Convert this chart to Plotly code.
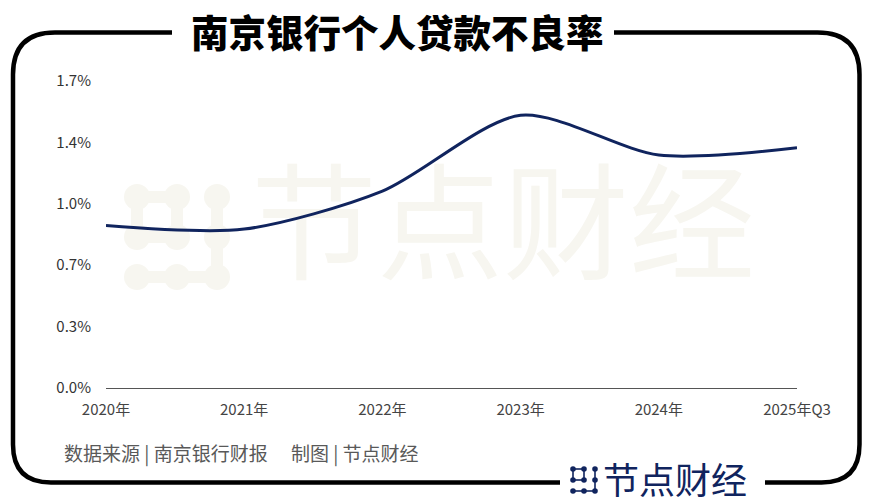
import plotly.graph_objects as go

# ---- data ----
categories = ["2020年", "2021年", "2022年", "2023年", "2024年", "2025年Q3"]
npl_rate = [0.90, 0.88, 1.09, 1.51, 1.29, 1.33]  # 个人贷款不良率 (%)
ytick_vals = [0.0, 0.34, 0.68, 1.02, 1.36, 1.70]
ytick_text = ["0.0%", "0.3%", "0.7%", "1.0%", "1.4%", "1.7%"]

W, H = 872, 504
L, R, T, B = 106, 75, 81, 116
X0, X1 = L, W - R
Y0, Y1 = H - B, T

def px(x):
    return (x - X0) / (X1 - X0)

def py(y):
    return (Y0 - y) / (Y0 - Y1)

NAVY = "#10245e"
WM = "#f7f6f0"
FONT = "Noto Sans CJK SC"

xs = list(range(len(categories)))
fig = go.Figure()

# watermark text (drawn under the data line)
fig.add_trace(go.Scatter(
    x=[(503 - X0) / (X1 - X0) * 5], y=[(Y0 - 238) / (Y0 - Y1) * 1.7],
    mode="text", text=["节点财经"],
    textfont=dict(family=FONT, size=126, color=WM),
    hoverinfo="skip", showlegend=False, cliponaxis=False,
))

fig.add_trace(go.Scatter(
    x=xs, y=npl_rate, mode="lines",
    line=dict(color=NAVY, width=3, shape="spline", smoothing=0.8),
    showlegend=False, hoverinfo="skip",
))

shapes = []
lw = 4.5
xl, xr, yt, yb = 13, 859.5, 32.5, 482.5
rt, rb = 42, 38
def P(x, y):
    return f"{px(x):.5f},{py(y):.5f}"
path1 = (f"M {P(172, yt)} L {P(xl + rt, yt)} Q {P(xl, yt)} {P(xl, yt + rt)} "
         f"L {P(xl, yb - rb)} Q {P(xl, yb)} {P(xl + rb, yb)} L {P(560, yb)}")
path2 = (f"M {P(765, yb)} L {P(xr - rb, yb)} Q {P(xr, yb)} {P(xr, yb - rb)} "
         f"L {P(xr, yt + rt)} Q {P(xr, yt)} {P(xr - rt, yt)} L {P(614, yt)}")
for p in (path1, path2):
    shapes.append(dict(type="path", path=p, xref="paper", yref="paper",
                       line=dict(color="black", width=lw)))

def icon(cx, cy, step, r, bw, color, layer):
    out = []
    pts = {}
    for i in range(3):
        for j in range(3):
            pts[(i, j)] = (cx + (j - 1) * step, cy + (i - 1) * step)
    links = [((0, 0), (0, 1)), ((0, 0), (1, 0)), ((0, 1), (1, 1)), ((1, 0), (1, 1)),
             ((0, 2), (1, 2)), ((1, 2), (2, 2)), ((2, 0), (2, 1)), ((2, 1), (2, 2))]
    for a, b in links:
        (x1, y1), (x2, y2) = pts[a], pts[b]
        out.append(dict(type="line", xref="paper", yref="paper",
                        x0=px(x1), y0=py(y1), x1=px(x2), y1=py(y2),
                        line=dict(color=color, width=bw), layer=layer))
    for (x, y) in pts.values():
        out.append(dict(type="circle", xref="paper", yref="paper",
                        x0=px(x - r), x1=px(x + r), y0=py(y - r), y1=py(y + r),
                        fillcolor=color, line=dict(width=0), layer=layer))
    return out

shapes += icon(177, 237, 40, 13, 12, WM, "below")
shapes += icon(584, 480, 11, 2.8, 1.6, NAVY, "above")

annotations = [
    dict(text="南京银行个人贷款不良率", x=px(397), y=py(31), xref="paper", yref="paper",
         showarrow=False, xanchor="center", yanchor="middle",
         font=dict(family=FONT, size=37.5, color="black", weight=900)),
    dict(text="数据来源 | 南京银行财报　 制图 | 节点财经", x=px(62), y=py(453),
         xref="paper", yref="paper", showarrow=False, xanchor="left", yanchor="middle",
         font=dict(family=FONT, size=19, color="#595959")),
    dict(text="节点财经", x=px(602), y=py(478), xref="paper", yref="paper",
         showarrow=False, xanchor="left", yanchor="middle", borderpad=0,
         font=dict(family=FONT, size=36, color=NAVY)),
]

fig.update_layout(
    width=W, height=H,
    margin=dict(l=L, r=R, t=T, b=B, pad=0),
    paper_bgcolor="white", plot_bgcolor="white",
    shapes=shapes, annotations=annotations,
    xaxis=dict(range=[0, len(categories) - 1], tickvals=xs, ticktext=categories,
               showgrid=False, zeroline=False, showline=True, linecolor="#555555",
               linewidth=1.2, ticks="", ticklabelstandoff=8,
               tickfont=dict(family=FONT, size=15, color="#444444"), fixedrange=True),
    yaxis=dict(range=[0, 1.7], tickvals=ytick_vals, ticktext=ytick_text,
               showgrid=False, zeroline=False, showline=False, ticks="",
               ticklabelstandoff=14,
               tickfont=dict(family=FONT, size=15, color="#333333"), fixedrange=True),
    showlegend=False,
)

fig.write_html("out.html", config={"displayModeBar": False},
               post_script="document.body.style.margin='0';document.body.style.overflow='hidden';")
